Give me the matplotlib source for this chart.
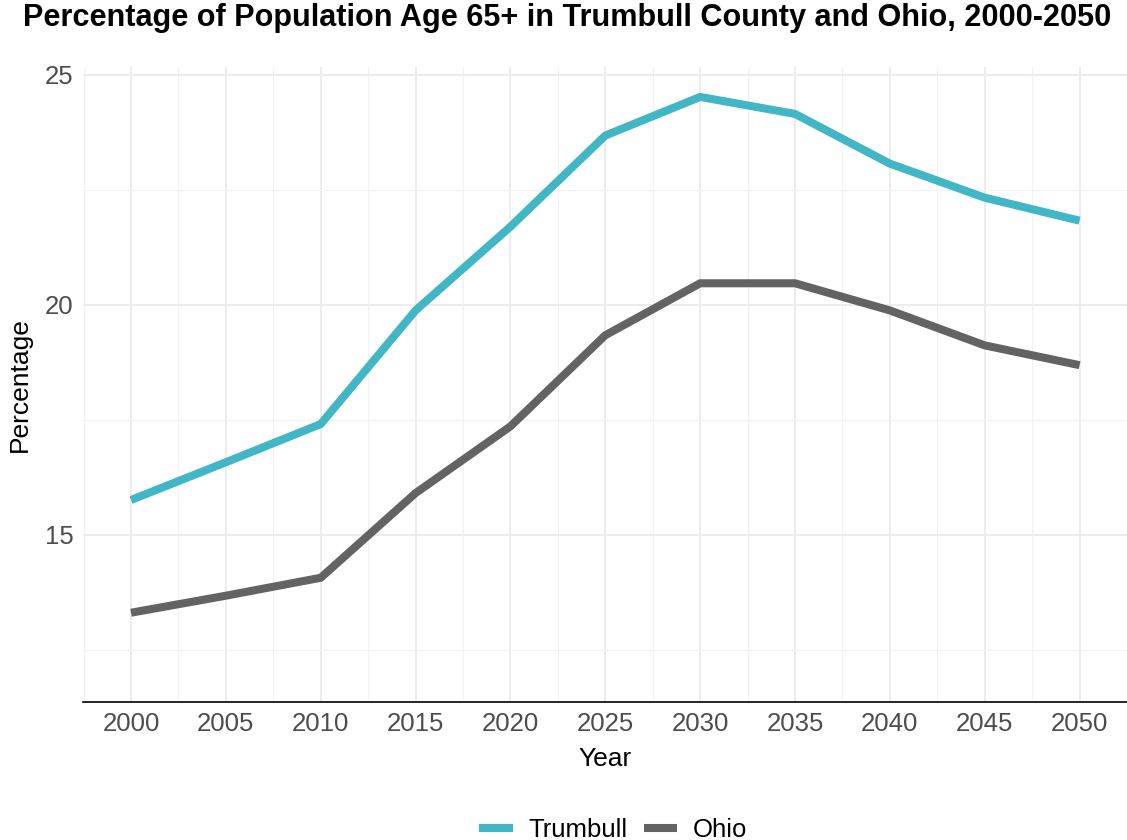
import matplotlib
matplotlib.use('Agg')
import matplotlib.pyplot as plt
from matplotlib.ticker import MultipleLocator

# Data
years = [2000, 2005, 2010, 2015, 2020, 2025, 2030, 2035, 2040, 2045, 2050]
trumbull = [15.76, 16.58, 17.41, 19.88, 21.70, 23.68, 24.52, 24.15, 23.07, 22.33, 21.83]
ohio = [13.31, 13.68, 14.07, 15.91, 17.36, 19.34, 20.47, 20.47, 19.88, 19.12, 18.69]

plt.rcParams['font.family'] = ['Liberation Sans', 'DejaVu Sans']

fig = plt.figure(figsize=(11.27, 8.4), dpi=100)
ax = fig.add_axes([83 / 1127, 1 - 702 / 840, (1127 - 83) / 1127, (702 - 67) / 840])

ax.plot(years, trumbull, color='#41B6C4', lw=5.8, label='Trumbull', solid_capstyle='butt', zorder=3)
ax.plot(years, ohio, color='#636363', lw=5.8, label='Ohio', solid_capstyle='butt', zorder=3)

ax.set_xlim(1997.47, 2052.5)
ax.set_ylim(11.37, 25.17)
ax.set_xticks(years)
ax.yaxis.set_major_locator(MultipleLocator(5))
ax.yaxis.set_minor_locator(MultipleLocator(2.5))
ax.xaxis.set_minor_locator(MultipleLocator(2.5))

ax.grid(which='major', color='#EBEBEB', lw=1.3)
ax.grid(which='minor', color='#F2F2F2', lw=0.8)
ax.set_axisbelow(True)
for s in ['top', 'right', 'left']:
    ax.spines[s].set_visible(False)
ax.spines['bottom'].set_color('black')
ax.spines['bottom'].set_linewidth(1.2)
ax.tick_params(which='both', length=0)
ax.tick_params(axis='both', labelsize=18.5, labelcolor='#4D4D4D', pad=7)

ax.set_xlabel('Year', fontsize=19, labelpad=8)
ax.set_ylabel('Percentage', fontsize=19, labelpad=9)

fig.suptitle('Percentage of Population Age 65+ in Trumbull County and Ohio, 2000-2050',
             fontsize=22.1, fontweight='bold', x=0.503, y=0.997)

fig.legend(loc='lower center', bbox_to_anchor=(0.544, -0.03), ncol=2, frameon=False,
           fontsize=18.5, handlelength=1.3, handletextpad=0.6, columnspacing=0.65)

fig.savefig('out.png', dpi=100)
